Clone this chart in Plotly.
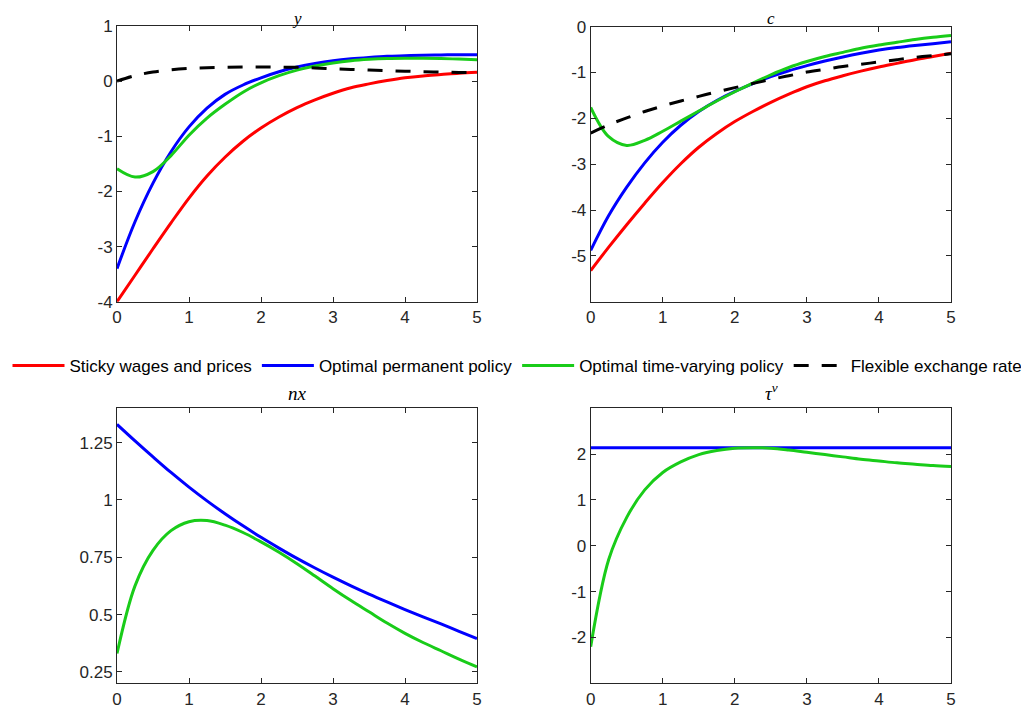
import plotly.graph_objects as go

t = [0, 0.25, 0.5, 0.75, 1, 1.25, 1.5, 1.75, 2, 2.25, 2.5, 2.75, 3, 3.25, 3.5, 3.75, 4, 4.25, 4.5, 4.75, 5]

# panel y
y_sticky = [-4.0, -3.52, -3.04, -2.57, -2.12, -1.72, -1.38, -1.09, -0.85, -0.65, -0.48, -0.34, -0.22, -0.12, -0.05, 0.01, 0.06, 0.095, 0.12, 0.145, 0.16]
y_perm = [-3.40, -2.55, -1.85, -1.28, -0.83, -0.49, -0.24, -0.07, 0.06, 0.17, 0.255, 0.32, 0.37, 0.405, 0.43, 0.45, 0.46, 0.47, 0.475, 0.48, 0.48]
y_tv = [-1.59, -1.74, -1.64, -1.35, -0.98, -0.67, -0.42, -0.20, -0.03, 0.10, 0.20, 0.275, 0.33, 0.37, 0.395, 0.41, 0.415, 0.415, 0.41, 0.40, 0.39]
y_flex = [0.0, 0.10, 0.165, 0.205, 0.23, 0.243, 0.25, 0.255, 0.257, 0.255, 0.25, 0.24, 0.225, 0.212, 0.2, 0.19, 0.18, 0.172, 0.165, 0.158, 0.152]

# panel c
c_sticky = [-5.32, -4.81, -4.32, -3.85, -3.40, -2.99, -2.63, -2.33, -2.07, -1.85, -1.65, -1.47, -1.31, -1.18, -1.07, -0.97, -0.88, -0.80, -0.72, -0.65, -0.58]
c_perm = [-4.88, -4.12, -3.50, -2.97, -2.52, -2.15, -1.85, -1.61, -1.41, -1.24, -1.09, -0.96, -0.85, -0.75, -0.66, -0.58, -0.51, -0.455, -0.41, -0.37, -0.33]
c_tv = [-1.76, -2.40, -2.59, -2.48, -2.28, -2.06, -1.84, -1.62, -1.42, -1.23, -1.05, -0.89, -0.76, -0.65, -0.56, -0.47, -0.40, -0.34, -0.28, -0.23, -0.19]
c_flex = [-2.32, -2.14, -1.99, -1.85, -1.73, -1.62, -1.52, -1.42, -1.33, -1.24, -1.15, -1.07, -0.99, -0.93, -0.87, -0.82, -0.77, -0.72, -0.67, -0.63, -0.59]

# panel nx
nx_perm = [1.33, 1.258, 1.188, 1.12, 1.056, 0.996, 0.94, 0.887, 0.837, 0.79, 0.745, 0.703, 0.663, 0.625, 0.589, 0.555, 0.522, 0.49, 0.459, 0.427, 0.395]
nx_tv = [0.33, 0.625, 0.78, 0.866, 0.905, 0.91, 0.89, 0.858, 0.817, 0.772, 0.722, 0.668, 0.613, 0.561, 0.512, 0.463, 0.418, 0.378, 0.342, 0.306, 0.272]

# panel tau^v
tau_perm = [2.14] * len(t)
tau_tv = [-2.2, -0.3, 0.62, 1.22, 1.6, 1.83, 1.99, 2.08, 2.13, 2.14, 2.13, 2.09, 2.04, 1.99, 1.94, 1.89, 1.85, 1.81, 1.78, 1.75, 1.73]

names = ["Sticky wages and prices", "Optimal permanent policy", "Optimal time-varying policy", "Flexible exchange rate"]
colors = ["#FF0000", "#0000FF", "#19CC19", "#000000"]

# the page body adds an 8px margin, so the figure is drawn 8px right/down
OFF = 8
W, H = 1029 - OFF, 711 - OFF
def dom_x(a, b):
    return [(a - OFF) / W, (b - OFF) / W]
def dom_y(top, bot):
    return [1 - (bot - OFF) / H, 1 - (top - OFF) / H]

fig = go.Figure()

panels = [
    ("x", "y", [y_sticky, y_perm, y_tv, y_flex]),
    ("x2", "y2", [c_sticky, c_perm, c_tv, c_flex]),
    ("x3", "y3", [None, nx_perm, nx_tv, None]),
    ("x4", "y4", [None, tau_perm, tau_tv, None]),
]
for pi, (xa, ya, series) in enumerate(panels):
    for si, s in enumerate(series):
        if s is None:
            continue
        fig.add_trace(go.Scatter(
            x=t, y=s, xaxis=xa, yaxis=ya, mode="lines",
            line=dict(color=colors[si], width=3, shape="spline", smoothing=1.0,
                      dash="15px,13px" if si == 3 else "solid"),
            name=names[si], showlegend=(pi == 0), hoverinfo="skip"))

axcol = "#262626"
tickfont = dict(family="Liberation Sans, Arial, sans-serif", size=17, color=axcol)
common = dict(showline=True, mirror="ticks", linecolor=axcol, linewidth=1,
              ticks="inside", ticklen=5, tickcolor=axcol, showgrid=False, zeroline=False,
              tickfont=tickfont, automargin=False)

def lab(v):
    return [("%g" % x) for x in v]

xt = [0, 1, 2, 3, 4, 5]
ty1 = [-4, -3, -2, -1, 0, 1]
ty2 = [-5, -4, -3, -2, -1, 0]
ty3 = [0.25, 0.5, 0.75, 1, 1.25]
ty4 = [-2, -1, 0, 1, 2]
fig.update_layout(
    template="none",
    width=W, height=H, paper_bgcolor="white", plot_bgcolor="white",
    margin=dict(l=0, r=0, t=0, b=0, autoexpand=False),
    xaxis=dict(domain=dom_x(117, 477), anchor="y", range=[0, 5], tickvals=xt, ticktext=lab(xt), **common),
    yaxis=dict(domain=dom_y(26, 301.7), anchor="x", range=[-4, 1], tickvals=ty1, ticktext=lab(ty1), **common),
    xaxis2=dict(domain=dom_x(590.7, 951), anchor="y2", range=[0, 5], tickvals=xt, ticktext=lab(xt), **common),
    yaxis2=dict(domain=dom_y(26.7, 301.7), anchor="x2", range=[-6, 0], tickvals=ty2, ticktext=lab(ty2), **common),
    xaxis3=dict(domain=dom_x(117, 477), anchor="y3", range=[0, 5], tickvals=xt, ticktext=lab(xt), **common),
    yaxis3=dict(domain=dom_y(408.3, 683.3), anchor="x3", range=[0.2, 1.4], tickvals=ty3, ticktext=lab(ty3), **common),
    xaxis4=dict(domain=dom_x(590.7, 951), anchor="y4", range=[0, 5], tickvals=xt, ticktext=lab(xt), **common),
    yaxis4=dict(domain=dom_y(408.3, 683.3), anchor="x4", range=[-3, 3], tickvals=ty4, ticktext=lab(ty4), **common),
    legend=dict(orientation="h", x=(517.5 - OFF) / W, xanchor="center", y=1 - (366 - OFF) / H, yanchor="middle",
                font=dict(family="Liberation Sans, Arial, sans-serif", size=17, color="#000000"),
                bgcolor="rgba(0,0,0,0)", itemwidth=52, tracegroupgap=0),
    showlegend=True,
)

# (text, page x, page y of box top, font size)
titles = [("<i>y</i>", 297, 8, 17), ("<i>c</i>", 771, 8, 17), ("<i>nx</i>", 297, 382, 19), ("<i>τ</i><sup><i>v</i></sup>", 771, 379, 19)]
for txt, px, py, fs in titles:
    fig.add_annotation(text=txt, x=(px - OFF) / W, y=1 - (py - OFF) / H, xref="paper", yref="paper",
                       showarrow=False, xanchor="center", yanchor="top", borderpad=0,
                       font=dict(family="Liberation Serif, Times New Roman, serif", size=fs, color="#000000"))

fig.write_html("out.html")
